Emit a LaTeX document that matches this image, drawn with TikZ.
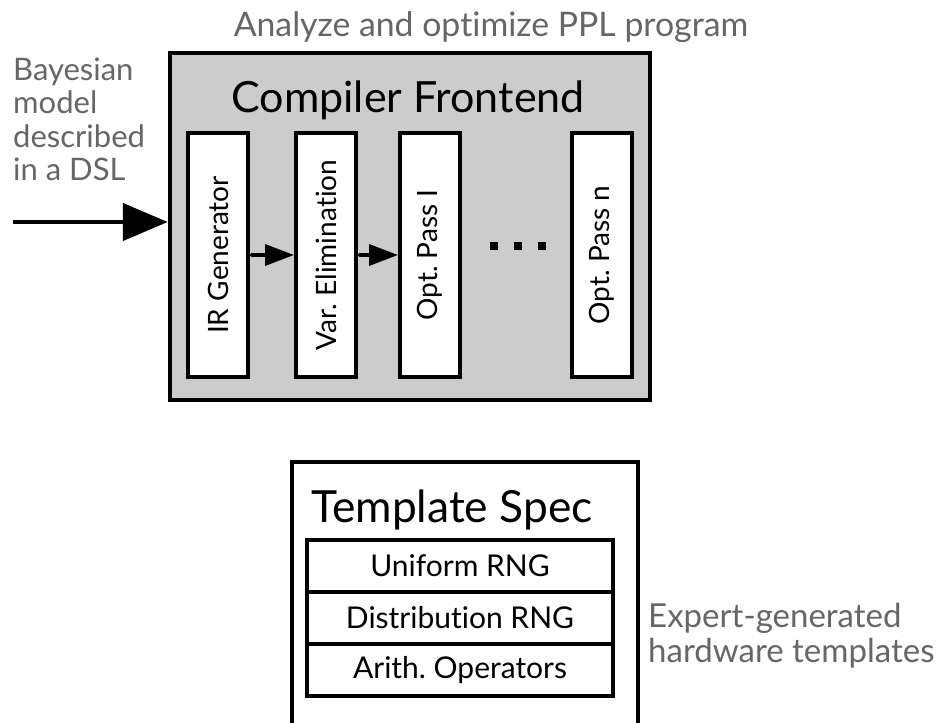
\documentclass[tikz,border=0pt]{standalone}
\usepackage{fontspec}
\setmainfont{Lato}[Ligatures=NoCommon]
\usetikzlibrary{arrows.meta}
\frenchspacing

\definecolor{notegray}{RGB}{102,102,102}
\definecolor{framegray}{RGB}{204,204,204}

\begin{document}
\begin{tikzpicture}[x=1pt, y=-1pt,
  frame/.style={draw, line width=4.5pt, fill=framegray, minimum width=480pt, minimum height=347pt, inner sep=0pt},
  pass/.style={draw, line width=4pt, fill=white, rotate=90, minimum width=244pt, minimum height=60pt, inner sep=0pt, font=\fontsize{28}{30}\selectfont},
  slot/.style={draw, line width=3.5pt, minimum width=306pt, minimum height=52pt, inner sep=0pt, font=\fontsize{30}{32}\selectfont},
  heading/.style={font=\fontsize{43}{45}\selectfont, anchor=base},
  note/.style={text=notegray, font=\fontsize{33}{34}\selectfont, align=left, inner sep=0pt},
  link/.style={line width=3.5pt, {Circle[length=4pt]}-{Triangle[length=29pt, width=21pt]}}]
  \clip (0,0) rectangle (943,723);
  \useasboundingbox (0,0) rectangle (943,723);

  % compiler frontend
  \node (title) [note, anchor=base, font=\fontsize{33.8}{35}\selectfont] at (491,36) {Analyze and optimize PPL program};
  \node (frontend) [frame] at (410,226.5) {};
  \node (fetitle) [heading] at (408,112) {Compiler Frontend};

  \node (ir) [pass] at (218,255) {IR Generator};
  \node (var) [pass] at (326,255) {Var. Elimination};
  \node (opt1) [pass] at (430,255) {Opt. Pass I};
  \node (optn) [pass] at (602,255) {Opt. Pass n};
  \foreach \x in {494,518,542}
    \fill (\x-4,242) rectangle (\x+4,250);

  \draw [link] (ir) -- (var);
  \draw [link] (var) -- (opt1);

  % input model
  \node (input) [note, anchor=base west, font=\fontsize{31}{33.5}\selectfont] at (13,180.5) {Bayesian\\model\\described\\in a DSL};
  \coordinate (src) at (13,222);
  \draw [line width=4.5pt, -{Triangle[length=45pt, width=37pt]}] (src) -- (src -| frontend.west);

  % templates
  \node (spec) [draw, line width=4pt, minimum width=346pt, minimum height=320pt, inner sep=0pt, anchor=north] at (465,460) {};
  \node (spectitle) [heading, font=\fontsize{44.3}{46}\selectfont] at (452,522) {Template Spec};
  \node (rng) [slot] at (460,566) {Uniform RNG};
  \node (dist) [slot] at (460,618) {Distribution RNG};
  \node (arith) [slot] at (460,670) {Arith. Operators};
  \node (expert) [note, anchor=base west, font=\fontsize{33}{35}\selectfont] at (648,662) {Expert-generated\\hardware templates};
\end{tikzpicture}
\end{document}
